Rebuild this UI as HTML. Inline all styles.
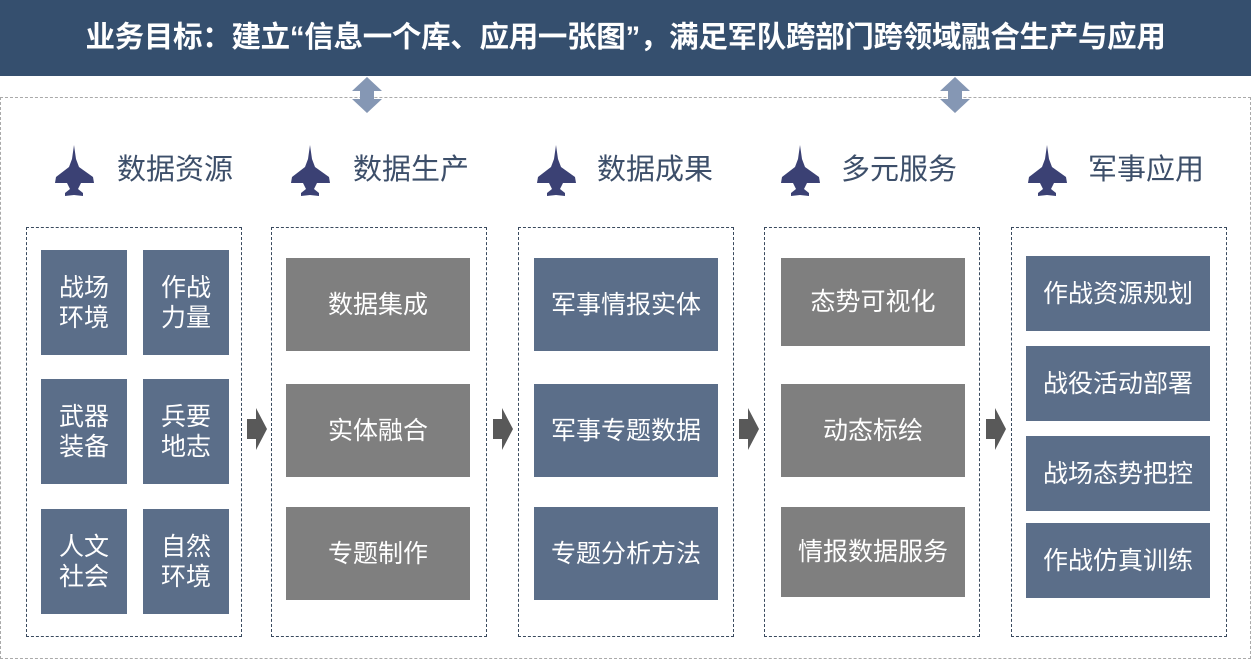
<!DOCTYPE html>
<html><head><meta charset="utf-8"><style>
body{margin:0;width:1251px;height:659px;position:relative;background:#fff;font-family:"Liberation Sans","Noto Sans CJK SC",sans-serif;overflow:hidden}
.a{position:absolute}
.title{left:0;top:0;width:1251px;height:76px;background:#354f6e;color:#fff;font-weight:bold;font-size:29.5px;line-height:76px;text-align:center;white-space:nowrap;letter-spacing:-0.3px}
.outer{left:0;top:97px;width:1249px;height:560px;border:1px dashed #aaa}
.col{border:1px dashed #3a4a5e;top:227px;height:408px;width:214px}
.b{display:flex;align-items:center;justify-content:center;color:#fff;font-size:25px;text-align:center;line-height:30px}
.bl{background:#5b6e89}.gr{background:#7f7f7f}
.h{font-size:29px;color:#3d4f6a;top:150px;line-height:40px}
</style></head><body>
<div class="a title">业务目标：建立“信息一个库、应用一张图”，满足军队跨部门跨领域融合生产与应用</div>
<div class="a outer"></div>
<svg class="a" style="left:0;top:0" width="1251" height="659">
<defs>
<g id="dbl"><polygon points="15,0 30,14 22,14 22,22 30,22 15,36 0,22 8,22 8,14 0,14" fill="#8597b4"/></g>
<g id="pl"><path d="M19,0 L21,14 L24,22 L38,32 L39,38 L26,38 L23,44 L28,48 L28,51 L19,50 L10,51 L10,48 L15,44 L12,38 L0,38 L1,32 L14,22 L17,14 Z" fill="#3b4174"/></g>
<g id="ar"><polygon points="0,11 9,11 9,0 20,21 9,42 9,31 0,31" fill="#595959"/></g>
</defs>
<use href="#dbl" x="352" y="77"/><use href="#dbl" x="940" y="77"/>
<use href="#pl" x="55" y="145"/><use href="#pl" x="291" y="145"/><use href="#pl" x="537" y="145"/><use href="#pl" x="781" y="145"/><use href="#pl" x="1028" y="145"/>
<use href="#ar" x="247" y="408"/><use href="#ar" x="493" y="408"/><use href="#ar" x="739" y="408"/><use href="#ar" x="986" y="408"/>
</svg>
<div class="a h" style="left:117px">数据资源</div>
<div class="a h" style="left:353px">数据生产</div>
<div class="a h" style="left:597px">数据成果</div>
<div class="a h" style="left:841px">多元服务</div>
<div class="a h" style="left:1088px">军事应用</div>

<div class="a col" style="left:26px"></div>
<div class="a col" style="left:271px"></div>
<div class="a col" style="left:518px"></div>
<div class="a col" style="left:764px"></div>
<div class="a col" style="left:1011px"></div>

<div class="a b bl" style="left:41px;top:250px;width:86px;height:105px">战场<br>环境</div>
<div class="a b bl" style="left:143px;top:250px;width:86px;height:105px">作战<br>力量</div>
<div class="a b bl" style="left:41px;top:379px;width:86px;height:105px">武器<br>装备</div>
<div class="a b bl" style="left:143px;top:379px;width:86px;height:105px">兵要<br>地志</div>
<div class="a b bl" style="left:41px;top:509px;width:86px;height:105px">人文<br>社会</div>
<div class="a b bl" style="left:143px;top:509px;width:86px;height:105px">自然<br>环境</div>

<div class="a b gr" style="left:286px;top:258px;width:184px;height:93px">数据集成</div>
<div class="a b gr" style="left:286px;top:384px;width:184px;height:93px">实体融合</div>
<div class="a b gr" style="left:286px;top:507px;width:184px;height:93px">专题制作</div>

<div class="a b bl" style="left:534px;top:258px;width:184px;height:93px">军事情报实体</div>
<div class="a b bl" style="left:534px;top:384px;width:184px;height:93px">军事专题数据</div>
<div class="a b bl" style="left:534px;top:507px;width:184px;height:93px">专题分析方法</div>

<div class="a b gr" style="left:781px;top:258px;width:184px;height:88px">态势可视化</div>
<div class="a b gr" style="left:781px;top:384px;width:184px;height:93px">动态标绘</div>
<div class="a b gr" style="left:781px;top:507px;width:184px;height:90px">情报数据服务</div>

<div class="a b bl" style="left:1026px;top:256px;width:184px;height:75px">作战资源规划</div>
<div class="a b bl" style="left:1026px;top:346px;width:184px;height:75px">战役活动部署</div>
<div class="a b bl" style="left:1026px;top:436px;width:184px;height:75px">战场态势把控</div>
<div class="a b bl" style="left:1026px;top:523px;width:184px;height:75px">作战仿真训练</div>
</body></html>
